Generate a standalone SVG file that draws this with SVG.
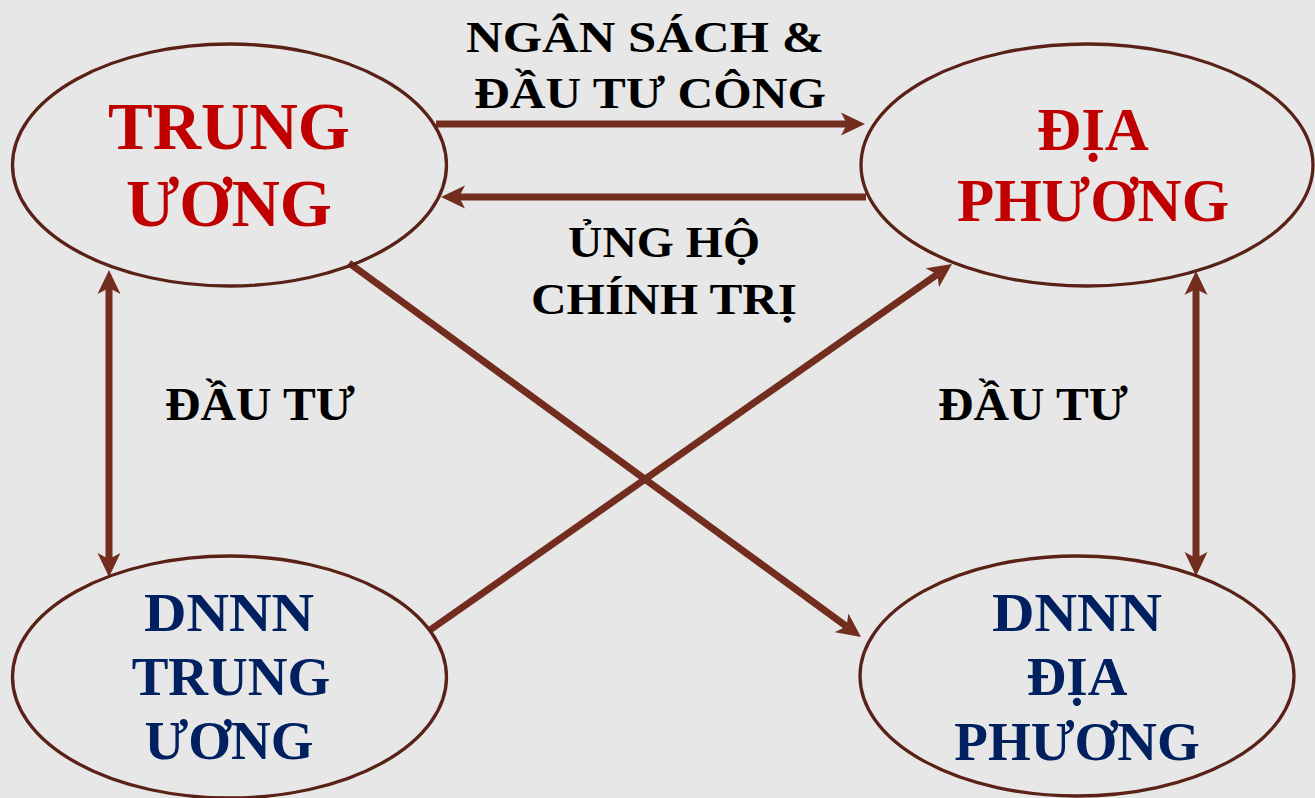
<svg xmlns="http://www.w3.org/2000/svg" width="1315" height="798" viewBox="0 0 1315 798">
<style>
.node{fill:none;stroke:#5a2216;stroke-width:3.3}
.conn{stroke:#722d1e;stroke-width:7;fill:none}
.t{font-family:"Liberation Serif","DejaVu Serif",serif;font-weight:bold;text-anchor:middle}
.red{fill:#c00000}
.blue{fill:#002060}
.lbl{fill:#000000}
</style>
<defs>
<marker id="ah" viewBox="0 0 24 24" refX="6" refY="12" markerWidth="24" markerHeight="24" markerUnits="userSpaceOnUse" orient="auto-start-reverse">
<path d="M0,0.5 L24,12 L0,23.5 L6,12 Z" fill="#722d1e"/>
</marker>
</defs>
<rect x="0" y="0" width="1315" height="798" fill="#e7e7e7"/>
<g id="connectors">
<line class="conn" x1="436" y1="124" x2="847" y2="124" marker-end="url(#ah)"/>
<line class="conn" x1="866" y1="197" x2="459" y2="197" marker-end="url(#ah)"/>
<line class="conn" x1="109" y1="288" x2="109" y2="559" marker-start="url(#ah)" marker-end="url(#ah)"/>
<line class="conn" x1="1196" y1="289" x2="1196" y2="558" marker-start="url(#ah)" marker-end="url(#ah)"/>
<line class="conn" x1="349" y1="263" x2="846.5" y2="626.4" marker-end="url(#ah)"/>
<line class="conn" x1="430" y1="630" x2="937.3" y2="274.3" marker-end="url(#ah)"/>
</g>
<g id="edge-labels">
<text class="t lbl" x="645" y="52" font-size="44" textLength="358" lengthAdjust="spacingAndGlyphs">NGÂN SÁCH &amp;</text>
<text class="t lbl" x="650" y="108" font-size="44" textLength="352" lengthAdjust="spacingAndGlyphs">ĐẦU TƯ CÔNG</text>
<text class="t lbl" x="664" y="257" font-size="44" textLength="192" lengthAdjust="spacingAndGlyphs">ỦNG HỘ</text>
<text class="t lbl" x="664" y="314" font-size="44" textLength="266" lengthAdjust="spacingAndGlyphs">CHÍNH TRỊ</text>
<text class="t lbl" x="260" y="420" font-size="46" textLength="190" lengthAdjust="spacingAndGlyphs">ĐẦU TƯ</text>
<text class="t lbl" x="1033" y="420" font-size="46" textLength="190" lengthAdjust="spacingAndGlyphs">ĐẦU TƯ</text>
</g>
<g id="trung-uong">
<ellipse class="node" cx="229.5" cy="165" rx="217" ry="121"/>
<text class="t red" x="229" y="149" font-size="67">TRUNG</text>
<text class="t red" x="229" y="226" font-size="67">ƯƠNG</text>
</g>
<g id="dia-phuong">
<ellipse class="node" cx="1087" cy="165" rx="226" ry="121"/>
<text class="t red" x="1093" y="150" font-size="61">ĐỊA</text>
<text class="t red" x="1093" y="221" font-size="61">PHƯƠNG</text>
</g>
<g id="dnnn-trung-uong">
<ellipse class="node" cx="229.5" cy="677" rx="217" ry="121"/>
<text class="t blue" x="229" y="631" font-size="55" textLength="170" lengthAdjust="spacingAndGlyphs">DNNN</text>
<text class="t blue" x="231" y="695" font-size="55">TRUNG</text>
<text class="t blue" x="229" y="759" font-size="55">ƯƠNG</text>
</g>
<g id="dnnn-dia-phuong">
<ellipse class="node" cx="1077" cy="676" rx="217" ry="120"/>
<text class="t blue" x="1077" y="631" font-size="55" textLength="170" lengthAdjust="spacingAndGlyphs">DNNN</text>
<text class="t blue" x="1077" y="695" font-size="55">ĐỊA</text>
<text class="t blue" x="1077" y="760" font-size="55">PHƯƠNG</text>
</g>
</svg>
